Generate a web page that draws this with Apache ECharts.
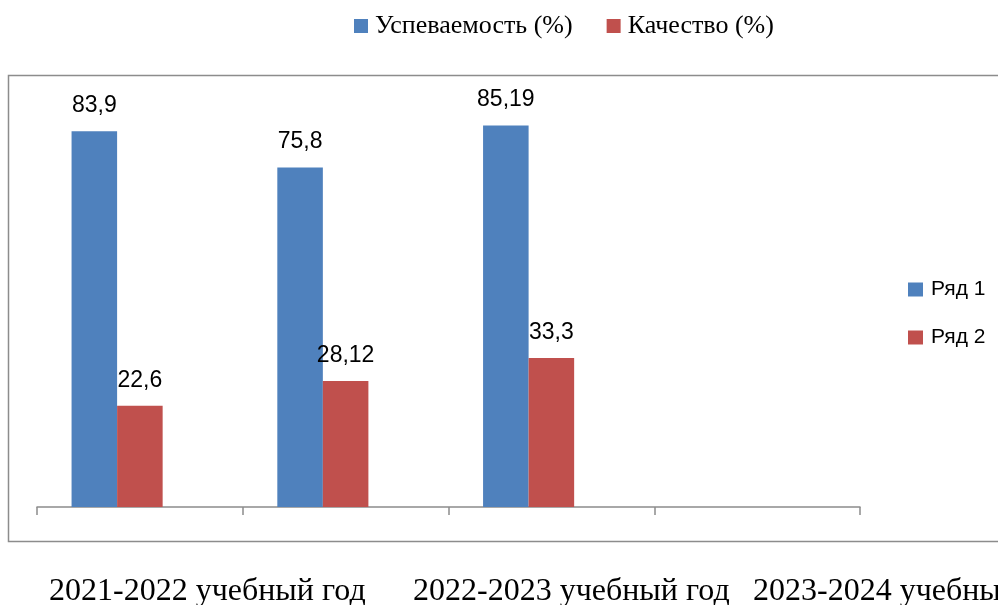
<!DOCTYPE html>
<html>
<head>
<meta charset="utf-8">
<script src="https://cdn.jsdelivr.net/npm/echarts@6/dist/echarts.min.js"></script>
<style>
  html, body { margin: 0; padding: 0; background: #fff; }
  #chart { width: 998px; height: 605px; }
</style>
</head>
<body>
<div id="chart"></div>
<script>
// categories on the axis (4th year has no data yet)
var categories = ['2021-2022', '2022-2023', '2023-2024', ''];
var series1 = [83.9, 75.8, 85.19, null];   // Ряд 1
var series2 = [22.6, 28.12, 33.3, null];   // Ряд 2
var series3 = [null, null, null, null];    // empty third slot
var topLegendNames = ['Успеваемость (%)', 'Качество (%)'];
var periodLabels = ['2021-2022 учебный год', '2022-2023 учебный год', '2023-2024 учебный год'];
var periodLabelX = [49, 413, 753];

var blue = '#4F81BD';
var red = '#C0504D';
var sans = '"Liberation Sans", Arial, sans-serif';
var serif = '"Liberation Serif", "Times New Roman", serif';

var chart = echarts.init(document.getElementById('chart'));

function fmt(p) {
  return p.value == null ? '' : String(p.value).replace('.', ',');
}

var graphics = [{
  type: 'rect',
  shape: { x: 8.5, y: 75.5, width: 1100, height: 466 },
  style: { fill: 'none', stroke: '#8c8c8c', lineWidth: 1.5 },
  silent: true
}];
periodLabels.forEach(function (t, i) {
  graphics.push({
    type: 'text',
    left: periodLabelX[i],
    top: 576,
    style: { text: t, font: '32px ' + serif, fill: '#000' }
  });
});

var option = {
  animation: false,
  backgroundColor: '#fff',
  grid: { left: 37, right: 138, top: 104, bottom: 98, containLabel: false },
  legend: [
    {
      data: topLegendNames,
      left: 349,
      top: 8,
      icon: 'rect',
      itemWidth: 14,
      itemHeight: 14,
      itemGap: 34,
      textStyle: { fontFamily: serif, fontSize: 26, color: '#000', padding: [0, 0, 0, 2] }
    },
    {
      data: ['Ряд 1', 'Ряд 2'],
      orient: 'vertical',
      left: 903,
      top: 274,
      icon: 'rect',
      itemWidth: 15,
      itemHeight: 14,
      itemGap: 27,
      textStyle: { fontFamily: sans, fontSize: 21, color: '#000', lineHeight: 20, padding: [0, 0, 0, 3] }
    }
  ],
  xAxis: {
    type: 'category',
    data: categories,
    boundaryGap: true,
    axisLine: { lineStyle: { color: '#8c8c8c', width: 1.5 } },
    axisTick: { show: true, length: 8, lineStyle: { color: '#8c8c8c', width: 1.5 } },
    axisLabel: { show: false }
  },
  yAxis: {
    type: 'value',
    min: 0,
    max: 90,
    show: false,
    splitLine: { show: false }
  },
  series: [
    {
      name: 'Ряд 1',
      type: 'bar',
      data: series1,
      barGap: 0,
      barCategoryGap: '33.6%',
      itemStyle: { color: blue },
      label: { show: true, position: 'top', distance: 14, formatter: fmt,
               fontFamily: sans, fontSize: 23, color: '#000' }
    },
    {
      name: 'Ряд 2',
      type: 'bar',
      data: series2,
      barGap: 0,
      barCategoryGap: '33.6%',
      itemStyle: { color: red },
      label: { show: true, position: 'top', distance: 14, formatter: fmt,
               fontFamily: sans, fontSize: 23, color: '#000' }
    },
    {
      name: 'Ряд 3',
      type: 'bar',
      data: series3,
      barGap: 0,
      barCategoryGap: '33.6%'
    },
    { name: topLegendNames[0], type: 'line', data: [], itemStyle: { color: blue } },
    { name: topLegendNames[1], type: 'line', data: [], itemStyle: { color: red } }
  ],
  graphic: graphics
};

chart.setOption(option);
</script>
</body>
</html>
